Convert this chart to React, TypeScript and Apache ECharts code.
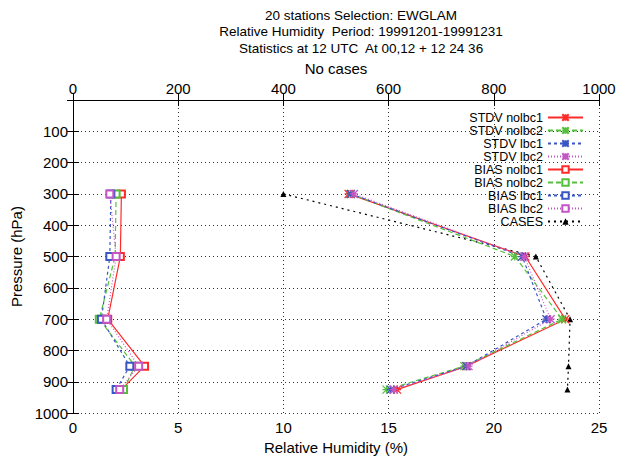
import React, { useEffect, useRef } from "react";
import * as echarts from "echarts";

const levels = [300, 500, 700, 850, 925];
const stdvNolbc1 = [13.1, 21.5, 23.4, 18.7, 15.4];
const stdvNolbc2 = [13.2, 21.0, 23.25, 18.6, 14.9];
const stdvLbc1 = [13.2, 21.35, 22.5, 18.7, 15.1];
const stdvLbc2 = [13.35, 21.45, 22.7, 18.8, 15.25];
const biasNolbc1 = [2.3, 2.25, 1.65, 3.4, 2.3];
const biasNolbc2 = [2.05, 2.0, 1.25, 2.95, 2.4];
const biasLbc1 = [1.8, 1.75, 1.35, 2.7, 2.05];
const biasLbc2 = [1.75, 2.05, 1.6, 3.12, 2.22];
const cases = [400, 880, 945, 942, 940];

const xTicks = [0, 5, 10, 15, 20, 25];
const topTicks = [0, 200, 400, 600, 800, 1000];
const yTicks = [0, 100, 200, 300, 400, 500, 600, 700, 800, 900, 1000];

const FONT = "'Liberation Sans', Arial, Helvetica, sans-serif";
const RED = "#ff2a2a";
const GREEN = "#55c03c";
const BLUE = "#3a56c4";
const PURPLE = "#c455c4";
const STAR = "path://M0,0L10,10M10,0L0,10M5,0L5,10M0,5L10,5";

function pairs(xs: number[]) {
  return xs.map((x, i) => [x, levels[i]]);
}

export default function App() {
  const ref = useRef<HTMLDivElement>(null);
  useEffect(() => {
    if (!ref.current) return;
    const chart = echarts.init(ref.current, undefined, { renderer: "svg" });
    const stdv = (name: string, data: number[], color: string, type: any) => ({
      name,
      type: "line",
      xAxisIndex: 0,
      yAxisIndex: 0,
      data: pairs(data),
      symbol: STAR,
      symbolSize: 8,
      itemStyle: { color, borderColor: color, borderWidth: 1.3 },
      lineStyle: { color, width: 1.2, type },
      z: 3,
    });
    const bias = (name: string, data: number[], color: string, type: any) => ({
      name,
      type: "line",
      xAxisIndex: 0,
      yAxisIndex: 0,
      data: pairs(data),
      symbol: "emptyRect",
      symbolSize: 7,
      itemStyle: { color, borderColor: color, borderWidth: 1.2 },
      lineStyle: { color, width: 1.2, type },
      z: 3,
    });
    const axisLine = { show: true, lineStyle: { color: "#000", width: 1 } };
    const tick = { show: true, inside: true, length: 6, lineStyle: { color: "#000" } };
    const fmt = (v: number) => String(v);
    const label = { color: "#000", fontSize: 15, fontFamily: FONT, formatter: fmt };
    chart.setOption({
      animation: false,
      backgroundColor: "#fff",
      title: {
        text: "20 stations Selection: EWGLAM\nRelative Humidity  Period: 19991201-19991231\nStatistics at 12 UTC  At 00,12 + 12 24 36",
        left: 356,
        top: 2,
        textAlign: "center",
        textStyle: { fontSize: 13.5, lineHeight: 16.5, fontWeight: "normal", color: "#000", fontFamily: FONT },
      },
      legend: {
        orient: "vertical",
        right: 55,
        top: 111,
        padding: 0,
        align: "right",
        itemWidth: 35,
        itemHeight: 8,
        itemGap: 0,
        textStyle: { fontSize: 12.5, lineHeight: 12.4, color: "#000", fontFamily: FONT },
        data: [
          "STDV nolbc1", "STDV nolbc2", "STDV lbc1", "STDV lbc2",
          "BIAS nolbc1", "BIAS nolbc2", "BIAS lbc1", "BIAS lbc2", "CASES",
        ],
      },
      grid: { left: 73, right: 40, top: 100, bottom: 43.5 },
      xAxis: [
        {
          type: "value",
          position: "bottom",
          min: xTicks[0],
          max: xTicks[xTicks.length - 1],
          interval: 5,
          name: "Relative Humidity (%)",
          nameLocation: "middle",
          nameGap: 25,
          nameTextStyle: { color: "#000", fontSize: 15, fontFamily: FONT },
          axisLine,
          axisTick: tick,
          axisLabel: { ...label, margin: 7 },
          splitLine: { show: true, lineStyle: { color: "#333", type: [1, 3], width: 1 } },
        },
        {
          type: "value",
          position: "top",
          min: topTicks[0],
          max: topTicks[topTicks.length - 1],
          interval: 200,
          name: "No cases",
          nameLocation: "middle",
          nameGap: 20,
          nameTextStyle: { color: "#000", fontSize: 15, fontFamily: FONT },
          axisLine,
          axisTick: tick,
          axisLabel: { ...label, margin: 4 },
          splitLine: { show: false },
        },
      ],
      yAxis: [
        {
          type: "value",
          inverse: true,
          position: "left",
          min: yTicks[0],
          max: yTicks[yTicks.length - 1],
          interval: 100,
          name: "Pressure (hPa)",
          nameLocation: "middle",
          nameGap: 43,
          nameTextStyle: { color: "#000", fontSize: 15, fontFamily: FONT },
          axisLine,
          axisTick: tick,
          axisLabel: { ...label, margin: 5, showMinLabel: false },
          splitLine: { show: true, lineStyle: { color: "#333", type: [1, 3], width: 1 } },
        },
        {
          type: "value",
          inverse: true,
          position: "right",
          min: yTicks[0],
          max: yTicks[yTicks.length - 1],
          interval: 100,
          axisLine,
          axisTick: tick,
          axisLabel: { show: false },
          splitLine: { show: false },
        },
      ],
      series: [
        stdv("STDV nolbc1", stdvNolbc1, RED, "solid"),
        stdv("STDV nolbc2", stdvNolbc2, GREEN, [5, 3]),
        stdv("STDV lbc1", stdvLbc1, BLUE, [3, 3]),
        stdv("STDV lbc2", stdvLbc2, PURPLE, [1, 2]),
        bias("BIAS nolbc1", biasNolbc1, RED, "solid"),
        bias("BIAS nolbc2", biasNolbc2, GREEN, [5, 3]),
        bias("BIAS lbc1", biasLbc1, BLUE, [3, 3]),
        bias("BIAS lbc2", biasLbc2, PURPLE, [1, 2]),
        {
          name: "CASES",
          type: "line",
          xAxisIndex: 1,
          yAxisIndex: 0,
          data: cases.map((c, i) => [c, levels[i]]),
          symbol: "triangle",
          symbolSize: 6,
          itemStyle: { color: "#000" },
          lineStyle: { color: "#000", width: 1.2, type: [2, 4] },
          z: 2,
        },
      ],
    });
    return () => chart.dispose();
  }, []);
  return (
    <div
      ref={ref}
      style={{ position: "fixed", left: 0, top: 0, width: 639, height: 460, background: "#fff" }}
    />
  );
}
